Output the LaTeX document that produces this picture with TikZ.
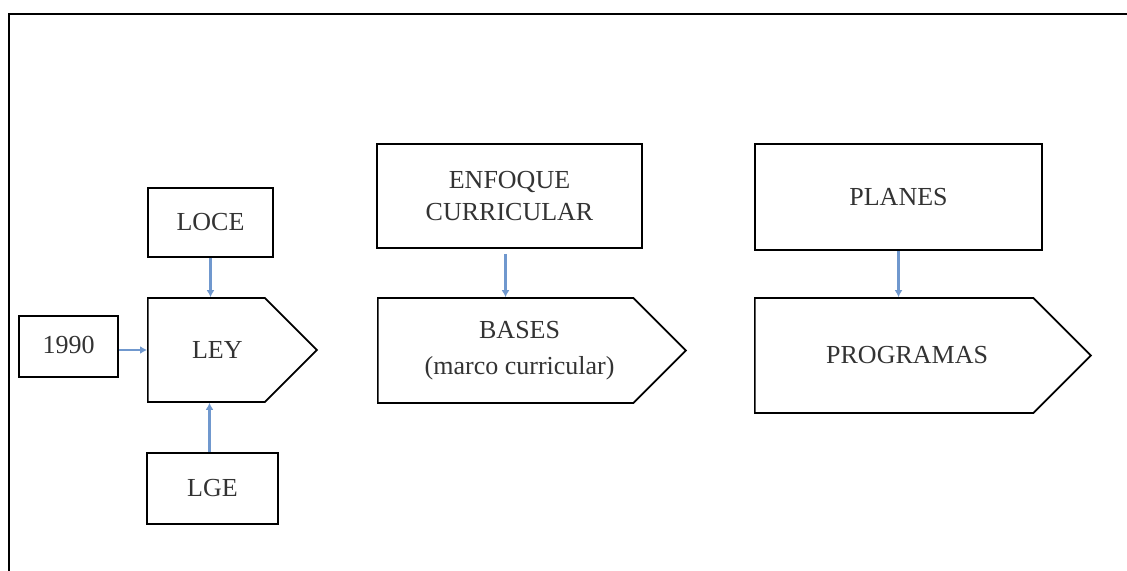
\documentclass[tikz,border=0pt]{standalone}
\usepackage{fontspec}
\setmainfont{Liberation Serif}
\usetikzlibrary{positioning}
\usetikzlibrary{shapes.symbols}
\usetikzlibrary{arrows.meta}
\definecolor{arrowblue}{RGB}{112,152,206}
\newcommand{\pshift}[1]{\hspace*{#1}}
\tikzset{%
  linkarrow/.style = {-{Latex[length=3.5pt,width=4pt]},arrowblue,line width=1.1pt},
  b/.style = {rectangle,draw,line width=0.85pt,align=center,text=black!80,
        font=\fontsize{13}{15.6}\selectfont},
  p/.style = {signal,signal to=east,signal pointer angle=90,draw,
        line width=0.85pt,align=center,text=black!80,
        font=\fontsize{13}{15.6}\selectfont}
}
\begin{document}
\begin{tikzpicture}[x=0.5pt,y=-0.5pt]
\useasboundingbox (0,0) rectangle (1127,571);
\draw[line width=1pt] (9,571) -- (9,14) -- (1127,14);
% left column
\node[p,anchor=west,minimum width=84.5pt,minimum height=52pt] (ley) at (147,350)
    {\pshift{11pt}LEY};
\node[b,minimum width=62.5pt,minimum height=34.5pt] (loce) at (210.5,222.5) {LOCE};
\node[b,minimum width=65.5pt,minimum height=35.5pt] (lge) at (212.5,488.5) {LGE};
\node[b,minimum width=49.5pt,minimum height=30.5pt] (y1990) at (68.5,346.5)
    {\raisebox{2pt}{1990}};
% middle column
\node[p,anchor=west,minimum width=154pt,minimum height=52.5pt] (bases) at (377,350.5)
    {\pshift{14pt}BASES\\[2.5pt]\pshift{14pt}(marco curricular)};
\node[b,minimum width=132.5pt,minimum height=52pt] (enfoque) at (509.5,196)
    {ENFOQUE\\CURRICULAR};
% right column
\node[p,anchor=west,minimum width=168pt,minimum height=57.5pt] (programas) at (754,355.5)
    {\pshift{13pt}PROGRAMAS};
\node[b,minimum width=143.5pt,minimum height=53pt] (planes) at (898.5,197) {PLANES};

\draw[linkarrow] (loce.south) -- (loce.south |- ley.north);
\draw[linkarrow] ([xshift=-1.5pt]lge.north) -- ([xshift=-1.5pt]lge.north |- ley.south);
\draw[linkarrow] (y1990.east |- ley.west) -- (ley.west);
\draw[linkarrow] ([xshift=-2pt,yshift=-2.5pt]enfoque.south) -- ([xshift=-2pt]enfoque.south |- bases.north);
\draw[linkarrow] (planes.south) -- (planes.south |- programas.north);
\end{tikzpicture}
\end{document}
